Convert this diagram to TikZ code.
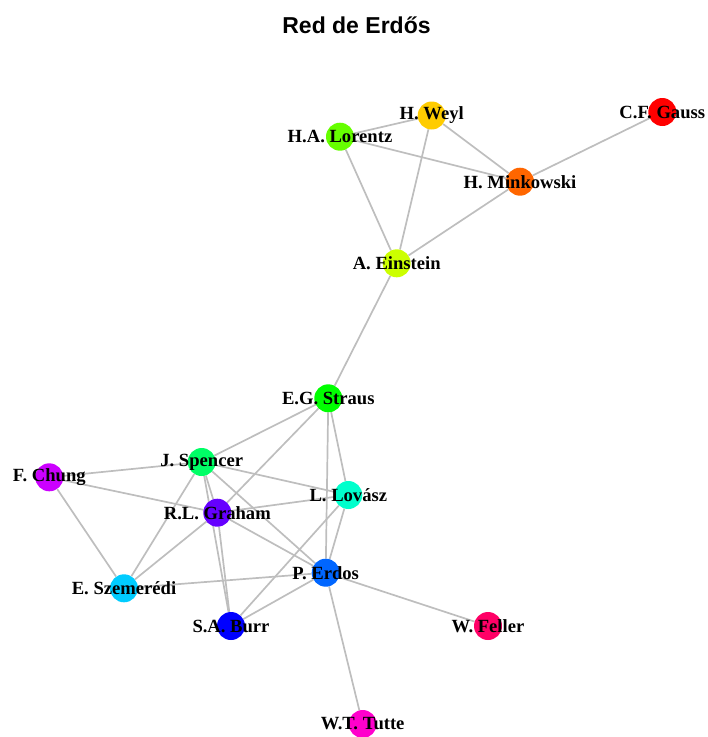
\documentclass[tikz,border=0pt]{standalone}
\usepackage{fontspec}
\setmainfont{Liberation Serif}
\newfontfamily\titlefont{Liberation Sans}
\usetikzlibrary{backgrounds}

% rainbow palette, one hue per author
\definecolor{cGauss}{HTML}{FF0000}
\definecolor{cMinkowski}{HTML}{FF6600}
\definecolor{cWeyl}{HTML}{FFCC00}
\definecolor{cEinstein}{HTML}{CCFF00}
\definecolor{cLorentz}{HTML}{66FF00}
\definecolor{cStraus}{HTML}{00FF00}
\definecolor{cSpencer}{HTML}{00FF66}
\definecolor{cLovasz}{HTML}{00FFCC}
\definecolor{cSzemeredi}{HTML}{00CCFF}
\definecolor{cErdos}{HTML}{0066FF}
\definecolor{cBurr}{HTML}{0000FF}
\definecolor{cGraham}{HTML}{6600FF}
\definecolor{cChung}{HTML}{CC00FF}
\definecolor{cTutte}{HTML}{FF00CC}
\definecolor{cFeller}{HTML}{FF0066}
\definecolor{edgegray}{HTML}{BEBEBE}

\tikzset{
  vertex/.style={circle, fill=#1, draw=none, minimum size=28pt, inner sep=0pt},
  vlabel/.style={font=\fontsize{18.6}{20}\selectfont\bfseries, text=black, inner sep=0pt},
  link/.style={draw=edgegray, line width=1.7pt},
}

\begin{document}
\begin{tikzpicture}[x=1pt, y=-1pt]
\useasboundingbox (0,0) rectangle (708,737);

\node[anchor=base, font=\titlefont\fontsize{23}{26}\selectfont\bfseries] (title) at (356.5,33.3) {Red de Erdős};

% vertices
\node[vertex=cWeyl]      (weyl)  at (431.7,115.5) {};
\node[vertex=cGauss]     (gauss) at (662.3,112.0) {};
\node[vertex=cLorentz]   (lor)   at (340.0,136.7) {};
\node[vertex=cMinkowski] (mink)  at (520.0,181.7) {};
\node[vertex=cEinstein]  (ein)   at (396.7,263.3) {};
\node[vertex=cStraus]    (str)   at (328.3,398.3) {};
\node[vertex=cSpencer]   (spe)   at (201.7,462.0) {};
\node[vertex=cChung]     (chu)   at (49.3,477.3)  {};
\node[vertex=cLovasz]    (lov)   at (348.3,495.0) {};
\node[vertex=cGraham]    (gra)   at (217.3,512.7) {};
\node[vertex=cErdos]     (erd)   at (325.7,572.7) {};
\node[vertex=cSzemeredi] (sze)   at (124.0,588.3) {};
\node[vertex=cBurr]      (bur)   at (231.0,626.0) {};
\node[vertex=cFeller]    (fel)   at (488.0,626.0) {};
\node[vertex=cTutte]     (tut)   at (362.7,724.0) {};

% co-authorship links, behind the vertices
\begin{scope}[on background layer]
\draw[link] (weyl) -- (lor);
\draw[link] (weyl) -- (mink);
\draw[link] (weyl) -- (ein);
\draw[link] (lor) -- (mink);
\draw[link] (lor) -- (ein);
\draw[link] (mink) -- (gauss);
\draw[link] (mink) -- (ein);
\draw[link] (ein) -- (str);
\draw[link] (str) -- (spe);
\draw[link] (str) -- (gra);
\draw[link] (str) -- (lov);
\draw[link] (str) -- (erd);
\draw[link] (spe) -- (chu);
\draw[link] (spe) -- (lov);
\draw[link] (spe) -- (gra);
\draw[link] (spe) -- (bur);
\draw[link] (spe) -- (sze);
\draw[link] (spe) -- (erd);
\draw[link] (chu) -- (gra);
\draw[link] (chu) -- (sze);
\draw[link] (gra) -- (lov);
\draw[link] (gra) -- (sze);
\draw[link] (gra) -- (erd);
\draw[link] (gra) -- (bur);
\draw[link] (lov) -- (bur);
\draw[link] (lov) -- (erd);
\draw[link] (erd) -- (sze);
\draw[link] (erd) -- (bur);
\draw[link] (erd) -- (fel);
\draw[link] (erd) -- (tut);
\end{scope}

% names on top
\node[vlabel] (lweyl)  at (weyl)  {H. Weyl};
\node[vlabel] (lgauss) at (gauss) {C.F. Gauss};
\node[vlabel] (llor)   at (lor)   {H.A. Lorentz};
\node[vlabel] (lmink)  at (mink)  {H. Minkowski};
\node[vlabel] (lein)   at (ein)   {A. Einstein};
\node[vlabel] (lstr)   at (str)   {E.G. Straus};
\node[vlabel] (lspe)   at (spe)   {J. Spencer};
\node[vlabel] (lchu)   at (chu)   {F. Chung};
\node[vlabel] (llov)   at (lov)   {L. Lovász};
\node[vlabel] (lgra)   at (gra)   {R.L. Graham};
\node[vlabel] (lerd)   at (erd)   {P. Erdos};
\node[vlabel] (lsze)   at (sze)   {E. Szemerédi};
\node[vlabel] (lbur)   at (bur)   {S.A. Burr};
\node[vlabel] (lfel)   at (fel)   {W. Feller};
\node[vlabel] (ltut)   at (tut)   {W.T. Tutte};
\end{tikzpicture}
\end{document}
